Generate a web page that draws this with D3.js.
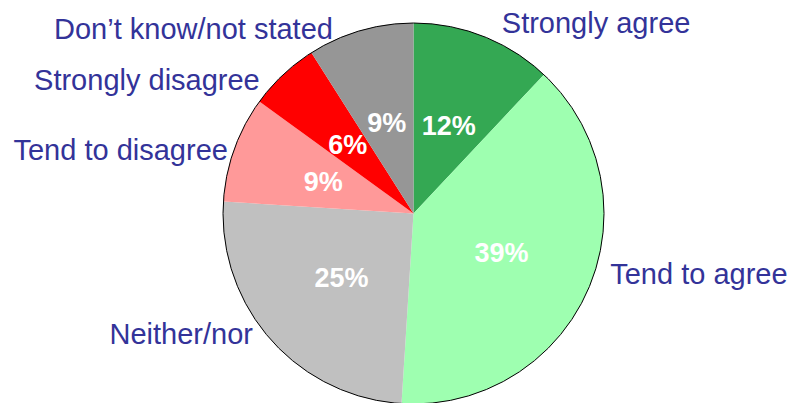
<!DOCTYPE html>
<html>
<head>
<meta charset="utf-8">
<script src="https://cdn.jsdelivr.net/npm/d3@7"></script>
<style>
  html, body { margin: 0; padding: 0; background: #ffffff; }
  svg { display: block; }
</style>
</head>
<body>
<svg id="chart" width="792" height="403"></svg>
<script>
const categories = ["Strongly agree", "Tend to agree", "Neither/nor", "Tend to disagree", "Strongly disagree", "Don\u2019t know/not stated"];
const values = [12, 39, 25, 9, 6, 9];
const colors = ["#34a853", "#9effb0", "#c0c0c0", "#ff9999", "#ff0000", "#969696"];
// label layout nudges (styling only)
const labelAnchor = ["start", "start", "end", "end", "end", "end"];
const labelNudge = [[11, 15], [4, -13], [-3, -8], [12, 18], [-10, 30], [-22, 27]];

const svg = d3.select("#chart");
const cx = 413.5, cy = 213.5, R = 190.5;
const g = svg.append("g").attr("transform", `translate(${cx},${cy})`);

const pie = d3.pie().sort(null).value(d => d.v);
const data = categories.map((c, i) => ({ c, v: values[i], i }));
const arcs = pie(data);

const arc = d3.arc().innerRadius(0).outerRadius(R);
const labelArc = d3.arc().innerRadius(96).outerRadius(96);
const outerArc = d3.arc().innerRadius(210).outerRadius(210);

g.selectAll("path.slice").data(arcs).enter().append("path")
  .attr("class", "slice")
  .attr("d", arc)
  .attr("fill", d => colors[d.data.i]);

g.append("circle").attr("r", R).attr("fill", "none").attr("stroke", "#000").attr("stroke-width", 1);

g.selectAll("text.pct").data(arcs).enter().append("text")
  .attr("class", "pct")
  .attr("transform", d => `translate(${labelArc.centroid(d)})`)
  .attr("text-anchor", "middle")
  .attr("dy", "0.38em")
  .attr("fill", "#ffffff")
  .attr("font-family", "Liberation Sans, Arial, sans-serif")
  .attr("font-weight", "bold")
  .attr("font-size", "27px")
  .text(d => d.data.v + "%");

g.selectAll("text.cat").data(arcs).enter().append("text")
  .attr("class", "cat")
  .attr("x", d => outerArc.centroid(d)[0] + labelNudge[d.data.i][0])
  .attr("y", d => outerArc.centroid(d)[1] + labelNudge[d.data.i][1])
  .attr("text-anchor", d => labelAnchor[d.data.i])
  .attr("fill", "#333399")
  .attr("font-family", "Liberation Sans, Arial, sans-serif")
  .attr("font-size", "29px")
  .text(d => d.data.c);
</script>
</body>
</html>
